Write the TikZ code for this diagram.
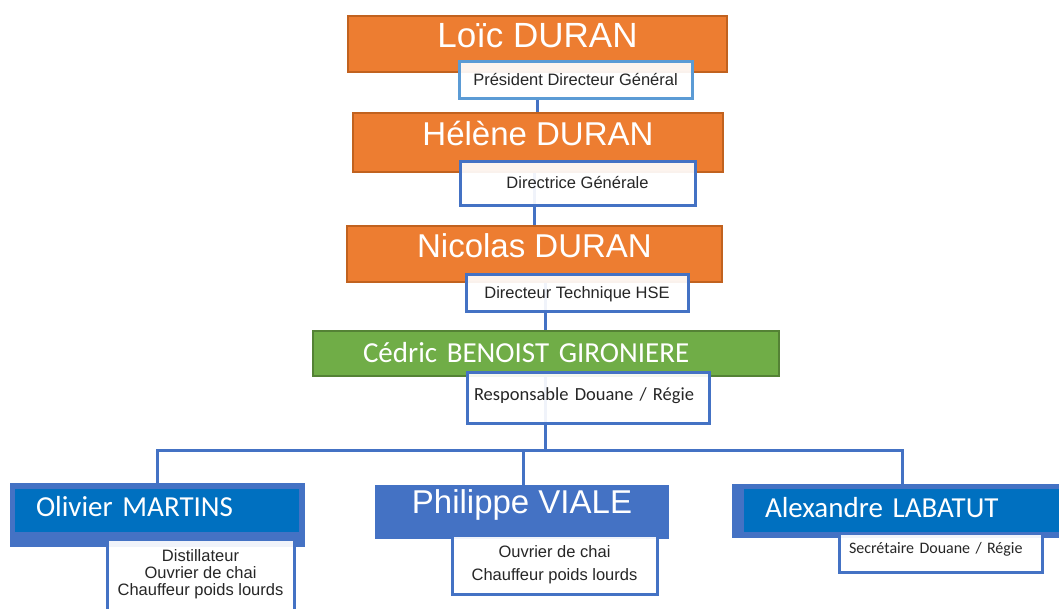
\documentclass[tikz,border=0pt]{standalone}
\usepackage{fontspec}
\setmainfont{Liberation Sans}
\newfontfamily\calib{Carlito}
\usetikzlibrary{backgrounds}
\definecolor{orgfill}{HTML}{ED7D31}
\definecolor{orgline}{HTML}{C1621F}
\definecolor{grnfill}{HTML}{70AD47}
\definecolor{grnline}{HTML}{548235}
\definecolor{roleline}{HTML}{4472C4}
\definecolor{roletop}{HTML}{5B9BD5}
\definecolor{teamfill}{HTML}{0070C0}
\definecolor{txt}{HTML}{262626}
\begin{document}
\begin{tikzpicture}[x=1pt,y=-1pt,
  boss/.style={rectangle,draw=orgline,fill=orgfill,line width=2.5pt,inner sep=0pt,text=white},
  role/.style={rectangle,draw=roleline,fill=white,fill opacity=0.92,text opacity=1,line width=3pt,inner sep=0pt,text=txt,font=\fontsize{16.5}{17}\selectfont},
  team/.style={rectangle,fill=roleline,inner sep=0pt},
  con/.style={draw=roleline,line width=3pt}]
  \clip (0,0) rectangle (1059,608);
  % direction
  \node[boss,minimum width=379pt,minimum height=56pt,text height=22pt,text depth=16pt,font=\fontsize{35}{40}\selectfont] (b1) at (537.5,44) {Loïc DURAN};
  \node[role,draw=roletop,minimum width=233pt,minimum height=37pt,text height=11pt,text depth=0pt] (t1) at (575.5,79.5) {Président Directeur Général};
  \node[boss,minimum width=370pt,minimum height=59pt,text height=21pt,text depth=16pt,font=\fontsize{33}{38}\selectfont] (b2) at (538,142.5) {Hélène DURAN};
  \node[role,minimum width=235pt,minimum height=44pt,text height=11pt,text depth=1pt] (t2) at (577.5,183) {Directrice Générale};
  \node[boss,minimum width=375pt,minimum height=56pt,text height=21pt,text depth=15pt,font=\fontsize{33}{38}\selectfont] (b3) at (534.5,254) {Nicolas DURAN};
  \node[role,minimum width=222pt,minimum height=37pt,text height=11pt,text depth=0pt] (t3) at (577,292.5) {Directeur Technique HSE};
  \node[boss,draw=grnline,fill=grnfill,minimum width=466pt,minimum height=45pt,text width=366pt,align=left,inner xsep=50pt,text height=20pt,text depth=3pt,font=\calib\fontsize{29}{35}\selectfont] (b4) at (546,353.5) {Cédric BENOIST GIRONIERE};
  \node[role,minimum width=242pt,minimum height=51pt,text width=228pt,align=left,inner xsep=7pt,text height=12pt,text depth=7pt,font=\calib\fontsize{18.5}{23}\selectfont] (t4) at (588,397.5) {Responsable Douane / Régie};
  % equipe
  \node[team,minimum width=295pt,minimum height=64pt] (ob) at (157.5,515) {};
  \node[team,fill=teamfill,minimum width=284pt,minimum height=43pt,text width=242pt,align=left,inner xsep=21pt,text=white,text height=18pt,text depth=7pt,font=\calib\fontsize{29}{35}\selectfont] (oi) at (157,510.5) {Olivier MARTINS};
  \node[role,minimum width=187pt,minimum height=71pt,align=center] (t5) at (200.5,574.5) {Distillateur\\Ouvrier de chai\\Chauffeur poids lourds};
  \node[team,minimum width=294pt,minimum height=54pt,text=white,text height=23pt,text depth=21pt,font=\fontsize{33}{38}\selectfont] (pb) at (522,512) {Philippe VIALE};
  \node[role,minimum width=205pt,minimum height=59pt,align=center,font=\fontsize{16.5}{23}\selectfont] (t6) at (554.5,564.5) {Ouvrier de chai\\Chauffeur poids lourds};
  \node[team,minimum width=338pt,minimum height=54pt] (ab) at (901,511) {};
  \node[team,fill=teamfill,minimum width=326pt,minimum height=43pt,text width=284pt,align=left,inner xsep=21pt,text=white,text height=19pt,text depth=6pt,font=\calib\fontsize{29}{35}\selectfont] (ai) at (907,510.5) {Alexandre LABATUT};
  \node[role,minimum width=203pt,minimum height=39pt,text width=183pt,align=left,inner xsep=10pt,text height=11pt,text depth=10pt,font=\calib\fontsize{16}{20}\selectfont] (t7) at (940.5,552.5) {Secrétaire Douane / Régie};
  % liens
  \coordinate (x1) at (537,0);
  \coordinate (x2) at (534,0);
  \coordinate (x3) at (545,0);
  \coordinate (bus) at (545,450);
  \coordinate (d1) at (157,450);
  \coordinate (d2) at (523,450);
  \coordinate (d3) at (902,450);
  \begin{scope}[on background layer]
    \draw[con] (t1.south -| x1) -- (b2.north -| x1);
    \draw[con] (b2.south -| x2) -- (b3.north -| x2);
    \draw[con] (b3.south -| x3) -- (b4.north -| x3);
    \draw[con] (b4.south -| bus) -- (bus);
    \draw[con] (d1 |- ob.north) -- (d1) -- (d3) -- (d3 |- ab.north);
    \draw[con] (d2) -- (d2 |- pb.north);
  \end{scope}
\end{tikzpicture}
\end{document}
